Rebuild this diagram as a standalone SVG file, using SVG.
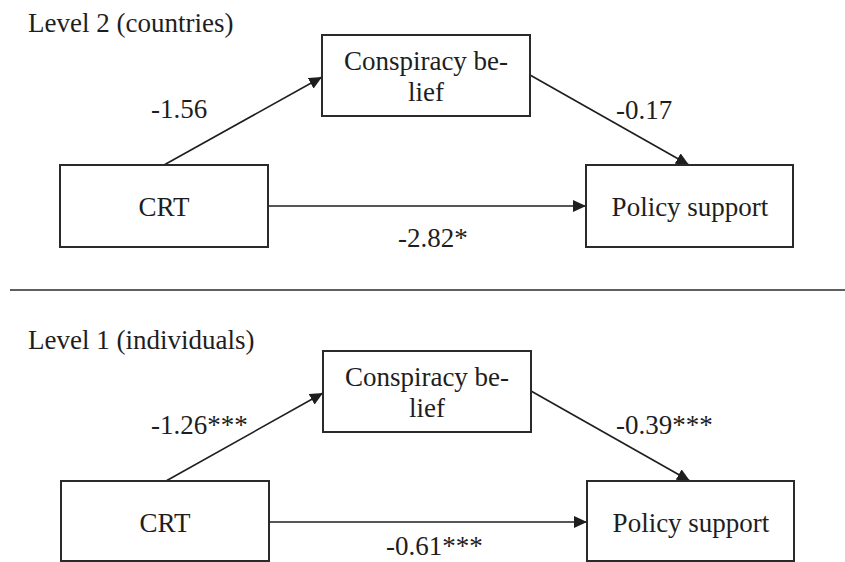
<svg xmlns="http://www.w3.org/2000/svg" width="845" height="562" viewBox="0 0 845 562">
<style>
text{font-family:"Liberation Serif","Times New Roman",serif;font-size:27px;fill:#1e1e1e}
.box{fill:#fff;stroke:#2a2a2a;stroke-width:2}
.c{text-anchor:middle}
.edge{stroke:#1e1e1e;stroke-width:1.6;fill:none;marker-end:url(#ah)}
</style>
<defs>
<marker id="ah" markerUnits="userSpaceOnUse" markerWidth="14" markerHeight="12" refX="13" refY="6" orient="auto">
<path d="M0,0 L13,6 L0,12 z" fill="#1e1e1e"/>
</marker>
</defs>
<rect width="845" height="562" fill="#fff"/>
<text x="28" y="32">Level 2 (countries)</text>
<text x="28" y="349">Level 1 (individuals)</text>
<line x1="10" y1="290" x2="845" y2="290" stroke="#2a2a2a" stroke-width="1.6"/>
<g id="connectors">
<line class="edge" x1="164" y1="165" x2="322" y2="77"/>
<line class="edge" x1="530" y1="75" x2="689" y2="165"/>
<line class="edge" x1="268" y1="206" x2="586" y2="206"/>
<line class="edge" x1="166" y1="481" x2="323" y2="393"/>
<line class="edge" x1="531" y1="391" x2="690" y2="481"/>
<line class="edge" x1="269" y1="522" x2="587" y2="522"/>
<text x="151" y="118">-1.56</text>
<text x="616" y="119">-0.17</text>
<text x="398" y="247">-2.82*</text>
<text x="151" y="434">-1.26***</text>
<text x="616" y="434">-0.39***</text>
<text x="386" y="555">-0.61***</text>
</g>
<g id="consp2">
<rect class="box" x="322" y="35" width="208" height="81"/>
<text class="c" x="426" y="70">Conspiracy be-</text>
<text class="c" x="426" y="101">lief</text>
</g>
<g id="crt2">
<rect class="box" x="60" y="165" width="208" height="82"/>
<text class="c" x="164" y="216">CRT</text>
</g>
<g id="policy2">
<rect class="box" x="586" y="165" width="207" height="82"/>
<text class="c" x="690" y="216">Policy support</text>
</g>
<g id="consp1">
<rect class="box" x="323" y="351" width="208" height="81"/>
<text class="c" x="427" y="386">Conspiracy be-</text>
<text class="c" x="427" y="417">lief</text>
</g>
<g id="crt1">
<rect class="box" x="61" y="481" width="208" height="80"/>
<text class="c" x="165" y="532">CRT</text>
</g>
<g id="policy1">
<rect class="box" x="587" y="481" width="207" height="80"/>
<text class="c" x="691" y="532">Policy support</text>
</g>
</svg>
